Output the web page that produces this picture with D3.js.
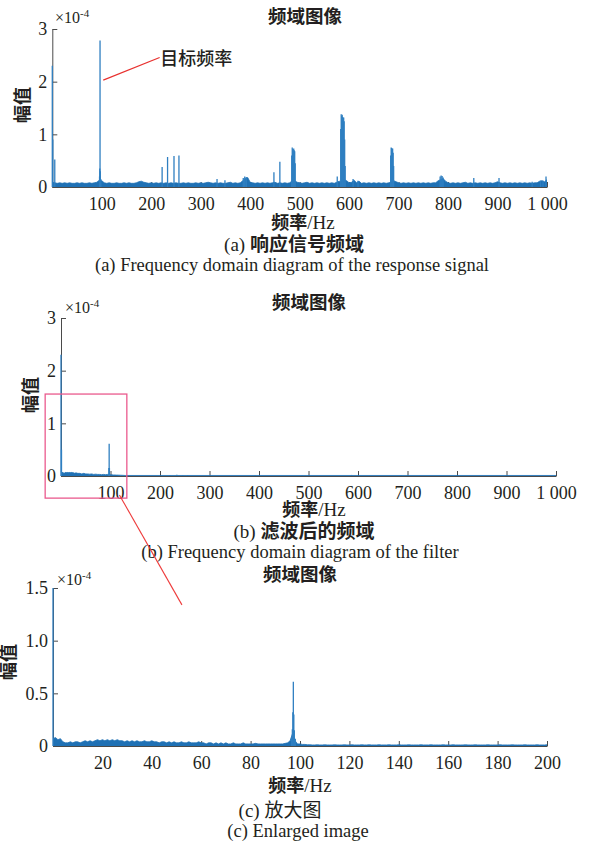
<!DOCTYPE html>
<html>
<head>
<meta charset="utf-8">
<script src="https://cdn.jsdelivr.net/npm/d3@7"></script>
<style>
  body { margin: 0; background: #fff; }
  svg { display: block; }
</style>
</head>
<body>
<div id="chart"></div>
<script>
// ---- tick values ----
const xTicksWide = [100, 200, 300, 400, 500, 600, 700, 800, 900, 1000];
const yTicksWide = [0, 1, 2, 3];
const xTicksZoom = [20, 40, 60, 80, 100, 120, 140, 160, 180, 200];
const yTicksZoom = [0, 0.5, 1.0, 1.5];

// ---- (a) response signal: noise floor every 5 Hz (x1e-4) ----
const stepA = 5;
const baseA = [
  0.09,0.08,0.07,0.08,0.07,0.08,0.07,0.08,0.07,0.07,0.08,0.07,0.08,0.07,0.07,0.08,0.07,0.08,0.09,0.13,
  0.12,0.08,0.07,0.08,0.07,0.07,0.08,0.07,0.07,0.08,0.07,0.08,0.07,0.07,0.08,0.10,0.11,0.09,0.08,0.07,
  0.08,0.07,0.08,0.07,0.08,0.07,0.08,0.07,0.08,0.07,0.08,0.07,0.07,0.08,0.07,0.08,0.07,0.07,0.08,0.07,
  0.08,0.07,0.08,0.09,0.08,0.07,0.08,0.07,0.08,0.07,0.07,0.08,0.09,0.07,0.08,0.07,0.08,0.12,0.16,0.18,
  0.09,0.08,0.07,0.08,0.07,0.08,0.07,0.08,0.07,0.08,0.09,0.07,0.08,0.07,0.08,0.07,0.08,0.12,0.12,0.09,
  0.08,0.07,0.08,0.09,0.07,0.08,0.07,0.08,0.07,0.08,0.07,0.08,0.07,0.08,0.07,0.09,0.11,0.09,0.14,0.12,
  0.08,0.09,0.13,0.08,0.11,0.07,0.08,0.07,0.08,0.07,0.08,0.07,0.08,0.07,0.08,0.07,0.08,0.09,0.12,0.10,
  0.08,0.07,0.08,0.07,0.08,0.07,0.08,0.07,0.08,0.07,0.08,0.07,0.08,0.07,0.08,0.08,0.12,0.14,0.16,0.11,
  0.08,0.07,0.08,0.07,0.08,0.07,0.08,0.09,0.07,0.08,0.07,0.08,0.07,0.08,0.07,0.08,0.07,0.08,0.07,0.08,
  0.10,0.08,0.07,0.08,0.07,0.08,0.07,0.08,0.07,0.08,0.07,0.08,0.07,0.08,0.07,0.08,0.08,0.11,0.12,0.10,0.14
];
// spectral lines [Hz, amplitude]
const peaksA = [
  [0,2.3],[1,0.9],[5,0.52],[95.5,0.2],[96,0.35],[96.5,2.78],[97,0.3],[98,0.15],
  [222,0.38],[233,0.57],[246,0.59],[256,0.6],
  [333,0.15],[349,0.13],[386,0.17],[389,0.2],[392,0.19],
  [448,0.28],[460,0.48],
  [484,0.6],[485,0.75],[486,0.72],[487,0.7],[488,0.73],[489,0.7],[490,0.68],[491,0.45],
  [576,0.2],[583,1.1],[584,1.38],[585,1.35],[586,1.37],[587,1.33],[588,1.3],[589,1.32],[590,1.25],[591,0.9],[592,0.4],
  [608,0.15],[618,0.12],
  [684,0.6],[685,0.75],[686,0.74],[687,0.72],[688,0.73],[689,0.65],[690,0.4],
  [784,0.2],[786,0.22],[788,0.21],[790,0.18],
  [852,0.17],[903,0.17],[970,0.1],[987,0.12],[992,0.12],[998,0.2]
];

// ---- (b) after filtering: noise floor [Hz, amplitude] ----
const baseB = [
  [0,0.08],[2,0.06],[4,0.07],[6,0.05],[8,0.06],[10,0.07],[12,0.06],[14,0.07],[16,0.06],[18,0.07],
  [20,0.06],[22,0.07],[24,0.06],[26,0.06],[28,0.05],[30,0.06],[34,0.05],[38,0.05],[42,0.04],[46,0.05],
  [50,0.04],[54,0.04],[58,0.035],[62,0.04],[66,0.03],[70,0.035],[74,0.03],[78,0.03],[82,0.025],[86,0.03],
  [90,0.025],[94,0.03],[100,0.025],[106,0.02],[112,0.018],[120,0.015],[130,0.01],[1000,0.01]
];
const peaksB = [
  [0,2.3],[1,0.5],[96.8,0.15],[97.3,0.61],[97.8,0.15],
  [220,0.02],[234,0.025],[246,0.02],[256,0.02],[392,0.02],[487,0.015],[587,0.02],[687,0.02]
];

// ---- (c) enlarged: noise floor every 1 Hz ----
const stepC = 1;
const baseC = [
  0.07,0.08,0.06,0.07,0.04,0.03,0.03,0.04,0.03,0.04,0.04,0.03,0.04,0.05,0.04,0.05,0.04,0.05,0.06,0.05,
  0.06,0.05,0.06,0.05,0.06,0.05,0.06,0.05,0.05,0.04,0.05,0.04,0.05,0.04,0.05,0.04,0.04,0.05,0.04,0.04,
  0.05,0.04,0.04,0.03,0.04,0.04,0.03,0.04,0.03,0.04,0.03,0.03,0.04,0.03,0.03,0.04,0.03,0.03,0.03,0.04,
  0.03,0.03,0.02,0.03,0.03,0.02,0.03,0.02,0.03,0.02,0.03,0.02,0.02,0.03,0.02,0.02,0.02,0.03,0.02,0.02,
  0.02,0.02,0.025,0.02,0.02,0.02,0.02,0.02,0.02,0.02,0.02,0.02,0.02,0.02,0.025,0.03,0.05,0.12,0.05,0.02,
  0.02,0.015,0.015,0.012,0.012,0.01,0.01,0.012,0.01,0.01,0.012,0.01,0.01,0.01,0.012,0.01,0.01,0.01,0.012,0.01,
  0.01,0.012,0.01,0.01,0.01,0.012,0.01,0.01,0.012,0.01,0.01,0.01,0.012,0.01,0.01,0.01,0.012,0.01,0.01,0.01,
  0.012,0.01,0.01,0.01,0.012,0.01,0.01,0.01,0.01,0.012,0.01,0.01,0.01,0.012,0.01,0.01,0.01,0.01,0.012,0.01,
  0.01,0.01,0.012,0.01,0.01,0.01,0.01,0.012,0.01,0.01,0.01,0.012,0.01,0.01,0.01,0.01,0.012,0.01,0.01,0.01,
  0.01,0.012,0.01,0.01,0.01,0.01,0.012,0.01,0.01,0.01,0.01,0.012,0.01,0.01,0.01,0.01,0.012,0.01,0.01,0.01,0.012
];
const peaksC = [
  [0,1.5],[96.6,0.08],[96.9,0.16],[97.1,0.32],[97.3,0.61],[97.5,0.3],[97.7,0.15],[98.1,0.07]
];

// ---- texts ----
const titleText = "频域图像";
const yLabelText = "幅值";
const annotText = "目标频率";
const captions = [
  { tag: "(a) ", zh: "响应信号频域", en: "(a) Frequency domain diagram of the response signal" },
  { tag: "(b) ", zh: "滤波后的频域", en: "(b) Frequency domain diagram of the filter" },
  { tag: "(c) ", zh: "放大图", en: "(c) Enlarged image" }
];

const W = 595, H = 842;
const blue = "#1f71b5";
const ink = "#231f20";
const serif = "'Liberation Serif', 'Times New Roman', serif";
const cjk = "'Noto Sans CJK SC', sans-serif";

const spaceFmt = d3.formatLocale({ decimal: ".", thousands: " ", grouping: [3], currency: ["", ""] }).format(",");

const panels = [
  {
    left: 52.3, right: 547, top: 29, bottom: 187, xMax: 1000, yMax: 3,
    xTicks: xTicksWide, yTicks: yTicksWide, yFmt: d => d,
    base: baseA.map((v, i) => [i * stepA, v]), peaks: peaksA,
    title: [305, 23], exp: [55, 23], ylab: [23, 105], xlab: [303, 229], cap: [294, 251], en: [292, 271]
  },
  {
    left: 61, right: 556, top: 318, bottom: 476, xMax: 1000, yMax: 3,
    xTicks: xTicksWide, yTicks: yTicksWide, yFmt: d => d,
    base: baseB, peaks: peaksB,
    title: [309, 309], exp: [65, 313], ylab: [31, 395], xlab: [314, 516], cap: [304, 538], en: [300, 558]
  },
  {
    left: 53, right: 547, top: 588, bottom: 746, xMax: 200, yMax: 1.5,
    xTicks: xTicksZoom, yTicks: yTicksZoom, yFmt: d => d === 0 ? "0" : d3.format(".1f")(d),
    base: baseC.map((v, i) => [i * stepC, v]), peaks: peaksC,
    title: [300, 581], exp: [57, 585], ylab: [9, 662], xlab: [300, 792], cap: [280, 817], en: [298, 837]
  }
];

const svg = d3.select("#chart").append("svg")
  .attr("width", W).attr("height", H)
  .style("background", "#fff");

panels.forEach((p, idx) => {
  const x = d3.scaleLinear().domain([0, p.xMax]).range([p.left, p.right]);
  const y = d3.scaleLinear().domain([0, p.yMax]).range([p.bottom, p.top]);
  p.x = x; p.y = y;

  const g = svg.append("g");

  // axes, MATLAB style: ticks point inward
  const xAxis = g.append("g")
    .attr("transform", `translate(0,${p.bottom})`)
    .call(d3.axisBottom(x).tickValues(p.xTicks).tickFormat(spaceFmt)
      .tickSizeInner(-5).tickSizeOuter(0).tickPadding(10));
  const yAxis = g.append("g")
    .attr("transform", `translate(${p.left},0)`)
    .call(d3.axisLeft(y).tickValues(p.yTicks).tickFormat(p.yFmt)
      .tickSizeInner(-5).tickSizeOuter(0).tickPadding(5));
  [xAxis, yAxis].forEach(a => {
    a.attr("font-family", serif).attr("font-size", 18);
    a.select(".domain").attr("stroke", "#4a4a4a").attr("stroke-width", 1);
    a.selectAll(".tick line").attr("stroke", "#4a4a4a");
    a.selectAll("text").attr("fill", ink);
  });

  // noise floor as a filled band
  g.append("path").datum(p.base)
    .attr("fill", blue)
    .attr("d", d3.area().x(d => x(d[0])).y0(y(0)).y1(d => y(d[1])));
  g.append("path").datum(p.base)
    .attr("fill", "none").attr("stroke", blue).attr("stroke-width", 0.8)
    .attr("d", d3.line().x(d => x(d[0])).y(d => y(d[1])));

  // spectral lines
  g.selectAll(".peak").data(p.peaks).enter().append("line")
    .attr("class", "peak")
    .attr("x1", d => x(d[0])).attr("x2", d => x(d[0]))
    .attr("y1", y(0)).attr("y2", d => y(d[1]))
    .attr("stroke", "#2f7fc1").attr("stroke-width", 1.3);

  // title
  g.append("text").attr("x", p.title[0]).attr("y", p.title[1])
    .attr("text-anchor", "middle").attr("fill", ink)
    .style("font-family", cjk).style("font-size", "18.5px").style("font-weight", 700)
    .text(titleText);

  // exponent
  const e = g.append("text").attr("x", p.exp[0]).attr("y", p.exp[1]).attr("fill", ink)
    .style("font-family", serif).style("font-size", "16px");
  e.append("tspan").text("×10");
  e.append("tspan").attr("dy", -6).style("font-size", "11px").text("-4");

  // y label
  g.append("text")
    .attr("transform", `translate(${p.ylab[0]},${p.ylab[1]}) rotate(-90)`)
    .attr("text-anchor", "middle").attr("dy", "0.35em").attr("fill", ink)
    .style("font-family", cjk).style("font-size", "18px").style("font-weight", 700)
    .text(yLabelText);

  // x label
  const xl = g.append("text").attr("x", p.xlab[0]).attr("y", p.xlab[1])
    .attr("text-anchor", "middle").attr("fill", ink).style("font-size", "18px");
  xl.append("tspan").style("font-family", cjk).style("font-weight", 700).text("频率");
  xl.append("tspan").style("font-family", serif).style("font-size", "19px").text("/Hz");

  // captions
  const c = captions[idx];
  const ct = g.append("text").attr("x", p.cap[0]).attr("y", p.cap[1])
    .attr("text-anchor", "middle").attr("fill", ink).style("font-size", "19px");
  ct.append("tspan").style("font-family", serif).text(c.tag);
  ct.append("tspan").style("font-family", cjk).style("font-weight", idx === 2 ? 400 : 700).text(c.zh);
  g.append("text").attr("x", p.en[0]).attr("y", p.en[1])
    .attr("text-anchor", "middle").attr("fill", ink)
    .style("font-family", serif).style("font-size", "18.5px")
    .text(c.en);
});

// annotation in (a): target frequency
const pa = panels[0], pb = panels[1], pc = panels[2];
svg.append("line")
  .attr("x1", pa.x(103)).attr("y1", pa.y(2.03))
  .attr("x2", pa.x(217)).attr("y2", pa.y(2.46))
  .attr("stroke", "#e8312f").attr("stroke-width", 1.2);
svg.append("text").attr("x", pa.x(218)).attr("y", pa.y(2.31)).attr("fill", ink)
  .style("font-family", cjk).style("font-size", "18px").style("font-weight", 500)
  .text(annotText);

// zoom box in (b) and connector to (c)
svg.append("rect")
  .attr("x", pb.x(-32)).attr("y", pb.y(1.556))
  .attr("width", pb.x(133) - pb.x(-32)).attr("height", pb.y(-0.42) - pb.y(1.556))
  .attr("fill", "none").attr("stroke", "#ea5a8e").attr("stroke-width", 1.3);
svg.append("line")
  .attr("x1", pb.x(118)).attr("y1", pb.y(-0.36))
  .attr("x2", pc.x(52.2)).attr("y2", pc.y(1.34))
  .attr("stroke", "#ee3b3b").attr("stroke-width", 1.1);
</script>
</body>
</html>
